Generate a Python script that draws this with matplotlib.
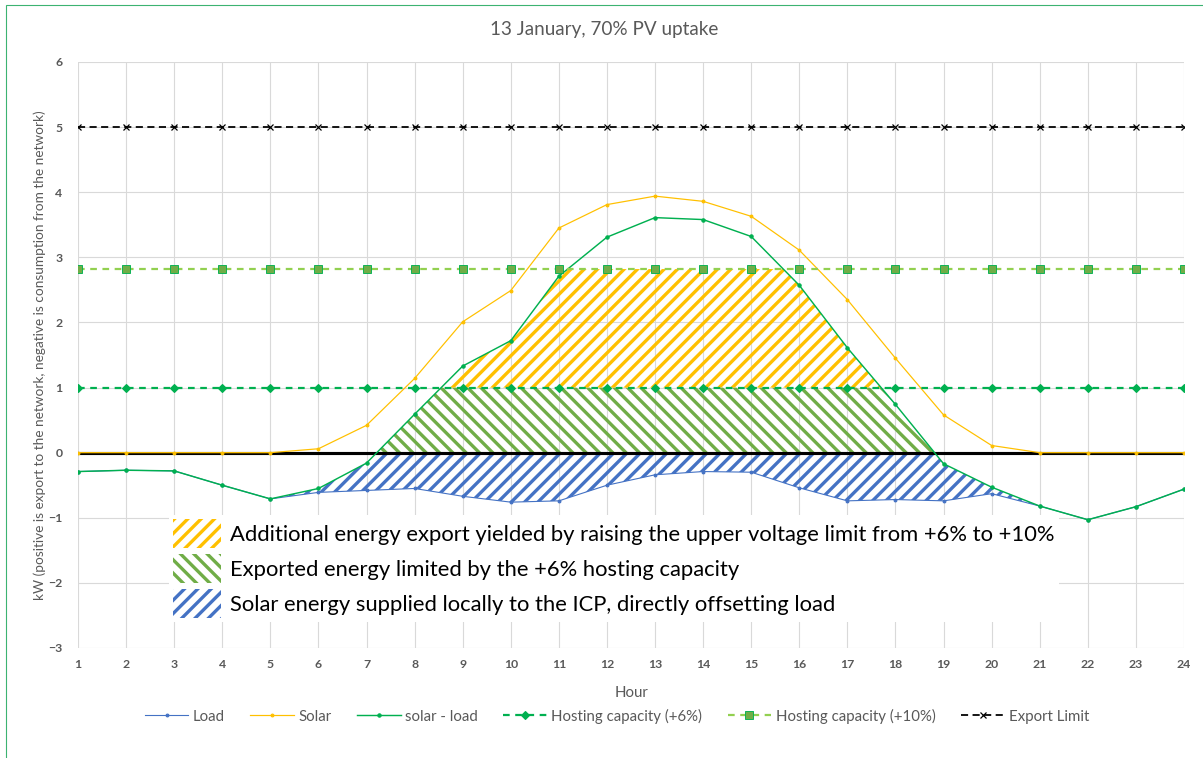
import matplotlib
matplotlib.use('Agg')
import matplotlib.pyplot as plt
from matplotlib.patches import Patch, Rectangle
import numpy as np

plt.rcParams['font.family'] = ['Lato', 'DejaVu Sans']
plt.rcParams['hatch.linewidth'] = 3.0

hours = list(range(1, 25))
load = [-0.29, -0.27, -0.28, -0.50, -0.71, -0.61, -0.58, -0.55, -0.67, -0.76,
        -0.74, -0.50, -0.34, -0.29, -0.30, -0.54, -0.74, -0.72, -0.74, -0.63,
        -0.82, -1.03, -0.83, -0.56]
solar = [0.0, 0.0, 0.0, 0.0, 0.0, 0.06, 0.42, 1.14, 2.01, 2.49,
         3.45, 3.81, 3.94, 3.86, 3.63, 3.11, 2.35, 1.45, 0.58, 0.11,
         0.0, 0.0, 0.0, 0.0]
net = [-0.29, -0.27, -0.28, -0.50, -0.71, -0.55, -0.16, 0.59, 1.33, 1.72,
       2.71, 3.31, 3.61, 3.58, 3.32, 2.57, 1.61, 0.74, -0.17, -0.53,
       -0.82, -1.03, -0.83, -0.56]
cap6 = 1.0
cap10 = 2.82
export_limit = 5.0

area_labels = ['Additional energy export yielded by raising the upper voltage limit from +6% to +10%',
               'Exported energy limited by the +6% hosting capacity',
               'Solar energy supplied locally to the ICP, directly offsetting load']

gray = '#595959'
c_load = '#4472C4'
c_solar = '#FFC000'
c_net = '#00B050'
c_h10 = '#92D050'
c_hatch_green = '#70AD47'

dpi = 80
fig = plt.figure(figsize=(1203 / dpi, 758 / dpi), dpi=dpi)
ax = fig.add_axes([78 / 1203, 1 - 648 / 758, (1184 - 78) / 1203, (648 - 62) / 758])

# green outer frame
fig.patches.append(Rectangle((6 / 1203, -0.05), 1.2, 1 - 5 / 758 + 0.05, transform=fig.transFigure,
                             fill=False, edgecolor='#3CB371', linewidth=1.0))

# hatched areas
hr = np.array(hours, dtype=float)
xd = np.linspace(1, 24, 4601)
net_d = np.interp(xd, hr, net)
load_d = np.interp(xd, hr, load)

ax.fill_between(xd, load_d, np.minimum(net_d, 0), where=net_d > load_d + 1e-6,
                facecolor='none', edgecolor=c_load, hatch='//', linewidth=0, zorder=2)
ax.fill_between(xd, 0, np.clip(net_d, 0, cap6), where=net_d > 0,
                facecolor='none', edgecolor=c_hatch_green, hatch='\\\\', linewidth=0, zorder=2)
ax.fill_between(xd, cap6, np.clip(net_d, cap6, cap10), where=net_d > cap6,
                facecolor='none', edgecolor=c_solar, hatch='//', linewidth=0, zorder=2)

ax.axhline(0, color='black', linewidth=2.8, zorder=3)

l1, = ax.plot(hours, load, color=c_load, linewidth=1.0, marker='o', markersize=2.5, zorder=4)
l2, = ax.plot(hours, solar, color=c_solar, linewidth=1.1, marker='o', markersize=2.5, zorder=4)
l3, = ax.plot(hours, net, color=c_net, linewidth=1.3, marker='o', markersize=3, zorder=4)
l4, = ax.plot(hours, [cap6] * len(hours), color=c_net, linewidth=2.0, linestyle=(0, (3, 2.5)),
              marker='D', markersize=4.5, zorder=4)
l5, = ax.plot(hours, [cap10] * len(hours), color=c_h10, linewidth=2.0, linestyle=(0, (3, 2.5)),
              marker='s', markersize=8, markerfacecolor=c_hatch_green, markeredgecolor=c_net,
              markeredgewidth=0.8, zorder=4)
l6, = ax.plot(hours, [export_limit] * len(hours), color='black', linewidth=1.6,
              linestyle=(0, (4, 2.5)), marker='x', markersize=6, markeredgewidth=1.1, zorder=4)

ax.set_xlim(1, 24)
ax.set_ylim(-3, 6)
ax.set_xticks(hours)
ax.set_yticks(range(-3, 7))
ax.grid(True, color='#D9D9D9', linewidth=1.0)
ax.set_axisbelow(True)
for s in ax.spines.values():
    s.set_visible(False)
ax.tick_params(length=0, labelcolor=gray, labelsize=11)
ax.tick_params(axis='x', pad=10)
ax.tick_params(axis='y', pad=14)
for t in ax.get_xticklabels() + ax.get_yticklabels():
    t.set_fontweight('bold')

ax.set_xlabel('Hour', color=gray, fontsize=13.5, labelpad=14)
fig.text(40 / 1203, 1 - 355 / 758,
         'kW (positive is export to the network, negative is consumption from the network)',
         rotation=90, ha='center', va='center', color=gray, fontsize=12.3)
fig.text(0.502, 1 - 30 / 758, '13 January, 70% PV uptake', ha='center', va='center',
         color=gray, fontsize=17)

handles = [Patch(facecolor='white', edgecolor=c_solar, hatch='//', linewidth=0),
           Patch(facecolor='white', edgecolor=c_hatch_green, hatch='\\\\', linewidth=0),
           Patch(facecolor='white', edgecolor=c_load, hatch='//', linewidth=0)]
leg = ax.legend(handles, area_labels, loc='upper left',
                bbox_to_anchor=((168.6 - 78) / 1106, (648 - 514.6) / 586), borderaxespad=0,
                fontsize=19.8, frameon=True, facecolor='white', edgecolor='none', framealpha=1,
                handlelength=2.2, handleheight=1.65, handletextpad=0.4, labelspacing=0.27,
                borderpad=0.2, fancybox=False)
leg.set_zorder(5)

fig.legend([l1, l2, l3, l4, l5, l6],
           ['Load', 'Solar', 'solar - load', 'Hosting capacity (+6%)', 'Hosting capacity (+10%)',
            'Export Limit'],
           loc='center', bbox_to_anchor=(0.513, 1 - 716 / 758), ncol=6, frameon=False,
           fontsize=13.5, labelcolor=gray, handlelength=2.9, handletextpad=0.3, columnspacing=1.7)

fig.savefig('out.png', dpi=dpi)
